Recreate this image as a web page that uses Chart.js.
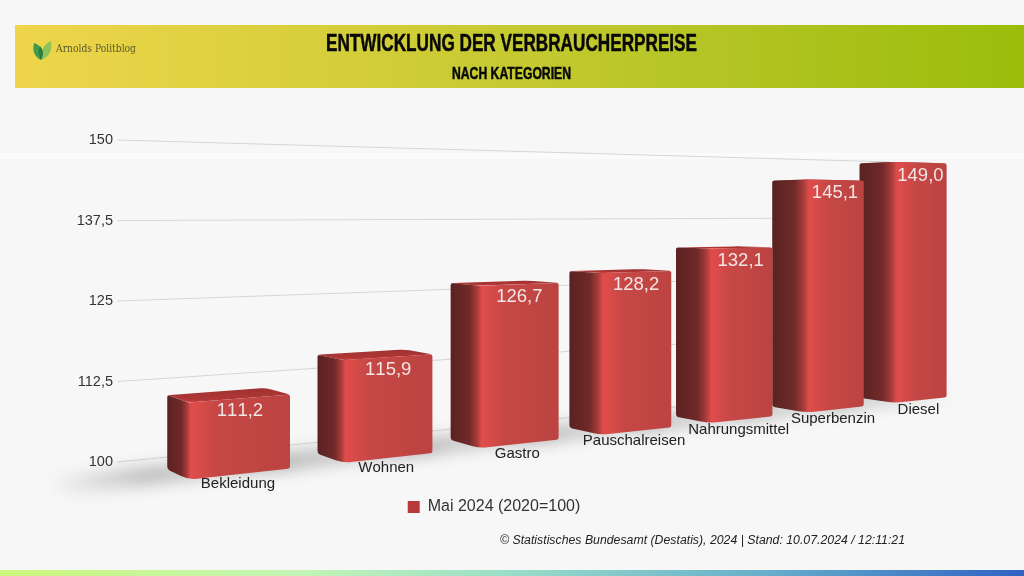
<!DOCTYPE html>
<html lang="de">
<head>
<meta charset="utf-8">
<title>Entwicklung der Verbraucherpreise</title>
<script src="https://cdn.jsdelivr.net/npm/chart.js@4/dist/chart.umd.min.js"></script>
<style>
    html, body { margin: 0; padding: 0; background: #f7f7f7; }
    canvas { display: block; }
</style>
</head>
<body>
<canvas id="chart" width="1024" height="576"></canvas>
<script>
const categories = ['Bekleidung', 'Wohnen', 'Gastro', 'Pauschalreisen', 'Nahrungsmittel', 'Superbenzin', 'Diesel'];
const values = [111.2, 115.9, 126.7, 128.2, 132.1, 145.1, 149.0];
const valueLabels = ['111,2', '115,9', '126,7', '128,2', '132,1', '145,1', '149,0'];
const yTickLabels = ['100', '112,5', '125', '137,5', '150'];
const seriesName = 'Mai 2024 (2020=100)';
const titleText = 'ENTWICKLUNG DER VERBRAUCHERPREISE';
const subtitleText = 'NACH KATEGORIEN';
const logoText = 'Arnolds Politblog';
const sourceText = '© Statistisches Bundesamt (Destatis), 2024 | Stand: 10.07.2024 / 12:11:21';

const HORIZON = 212;
const VP_RIGHT = 2650;
const VP_LEFT = -380;
const SPAN = 0.4375;
const DEPTH_FRONT = 0.077;
const DEPTH_BACK = 0.04;
const SHIFT_X = 2.5;

function project(chart, px, py, depth) {
    const area = chart.chartArea;
    const t = (px - area.left) / area.width * SPAN;
    const w = 1 + t - depth;
    return {
        x: SHIFT_X + area.left + ((VP_RIGHT - area.left) * t + (area.left - VP_LEFT) * depth) / w,
        y: HORIZON + (py - HORIZON) / w
    };
}

function roundedPoly(ctx, pts, radii) {
    const n = pts.length;
    ctx.beginPath();
    pts.forEach((p, i) => {
        const prev = pts[(i + n - 1) % n];
        const next = pts[(i + 1) % n];
        const lenA = Math.hypot(prev.x - p.x, prev.y - p.y) || 1;
        const lenB = Math.hypot(next.x - p.x, next.y - p.y) || 1;
        const cutA = Math.min(radii[i], lenA / 2) / lenA;
        const cutB = Math.min(radii[i], lenB / 2) / lenB;
        const x0 = p.x + (prev.x - p.x) * cutA;
        const y0 = p.y + (prev.y - p.y) * cutA;
        if (i === 0) {
            ctx.moveTo(x0, y0);
        } else {
            ctx.lineTo(x0, y0);
        }
        ctx.quadraticCurveTo(p.x, p.y, p.x + (next.x - p.x) * cutB, p.y + (next.y - p.y) * cutB);
    });
    ctx.closePath();
}

function fitText(ctx, text, cx, cy, font, width) {
    ctx.save();
    ctx.font = font;
    ctx.textAlign = 'center';
    ctx.textBaseline = 'middle';
    const k = width / ctx.measureText(text).width;
    ctx.translate(cx, cy);
    ctx.scale(k, 1);
    ctx.fillText(text, 0, 0);
    ctx.strokeStyle = ctx.fillStyle;
    ctx.lineWidth = 0.5;
    ctx.strokeText(text, 0, 0);
    ctx.restore();
}

function drawLogo(ctx) {
    ctx.save();
    ctx.fillStyle = '#8cc45c';
    ctx.beginPath();
    ctx.moveTo(41, 60);
    ctx.quadraticCurveTo(53, 56, 51, 41);
    ctx.quadraticCurveTo(40, 46, 41, 60);
    ctx.fill();
    ctx.fillStyle = '#3f9a4e';
    ctx.beginPath();
    ctx.moveTo(41, 60);
    ctx.quadraticCurveTo(31, 55, 34, 43);
    ctx.quadraticCurveTo(47, 48, 41, 60);
    ctx.fill();
    ctx.fillStyle = '#2a7a44';
    ctx.beginPath();
    ctx.moveTo(41, 60);
    ctx.quadraticCurveTo(37, 52, 40, 46);
    ctx.quadraticCurveTo(45, 52, 41, 60);
    ctx.fill();
    ctx.fillStyle = '#5c5a2c';
    ctx.font = '10.5px "DejaVu Serif", "Liberation Serif", serif';
    ctx.textAlign = 'left';
    ctx.textBaseline = 'middle';
    const k = 80 / ctx.measureText(logoText).width;
    ctx.translate(56, 49.5);
    ctx.scale(k, 1);
    ctx.fillText(logoText, 0, 0);
    ctx.restore();
}

function drawBar(chart, ctx, bar) {
    const left = bar.x - bar.width / 2;
    const right = bar.x + bar.width / 2;
    const base = chart.scales.y.getBasePixel();
    const top = bar.y;
    const a = project(chart, left, top, DEPTH_BACK);
    const b = project(chart, right, top, DEPTH_BACK);
    const c = project(chart, right, top, DEPTH_FRONT);
    const g = project(chart, left, top, DEPTH_FRONT);
    const d = project(chart, right, base, DEPTH_FRONT);
    const e = project(chart, left, base, DEPTH_FRONT);
    const f = project(chart, left, base, DEPTH_BACK);

    // top face
    const topFill = ctx.createLinearGradient(0, Math.min(a.y, b.y), 0, Math.max(g.y, c.y));
    topFill.addColorStop(0, '#9e3130');
    topFill.addColorStop(0.8, '#b03736');
    topFill.addColorStop(1, '#c94543');
    ctx.fillStyle = topFill;
    roundedPoly(ctx, [a, b, c, g], [3, 5, 2, 3]);
    ctx.fill();

    // side and front as one shaded surface, the edge between them is soft
    const span = c.x - a.x;
    const s = (g.x - a.x) / span;
    const body = ctx.createLinearGradient(a.x, 0, c.x, 0);
    body.addColorStop(0, '#5a2221');
    body.addColorStop(s * 0.65, '#702a29');
    body.addColorStop(s * 0.92, '#a83c3a');
    body.addColorStop(s * 1.08, '#e04d4b');
    body.addColorStop(Math.min(1, s * 1.08 + 0.04), '#dc4c4a');
    body.addColorStop(Math.min(1, s * 1.08 + 0.2), '#c64846');
    body.addColorStop(1, '#bb4341');
    ctx.fillStyle = body;
    roundedPoly(ctx, [a, g, c, d, e, f], [2, 0, 2, 2, 8, 3]);
    ctx.fill();
}

const perspectivePlugin = {
    id: 'perspective',
    beforeDraw(chart) {
        const ctx = chart.ctx;
        ctx.save();
        ctx.fillStyle = '#f7f7f7';
        ctx.fillRect(0, 0, chart.width, chart.height);
        ctx.fillStyle = '#fbfbfb';
        ctx.fillRect(0, 153, chart.width, 6);

        const head = ctx.createLinearGradient(15, 0, 1024, 0);
        head.addColorStop(0, '#efd54a');
        head.addColorStop(0.3, '#d7cf3c');
        head.addColorStop(0.7, '#b3c424');
        head.addColorStop(1, '#9bbd0a');
        ctx.fillStyle = head;
        ctx.fillRect(15, 25, 1009, 63);

        const foot = ctx.createLinearGradient(0, 0, 1024, 0);
        foot.addColorStop(0, '#cdf77c');
        foot.addColorStop(0.29, '#c4f5b5');
        foot.addColorStop(0.49, '#9bdfc8');
        foot.addColorStop(0.75, '#66aecb');
        foot.addColorStop(1, '#2f62c4');
        ctx.fillStyle = foot;
        ctx.fillRect(0, 570, chart.width, 6);

        ctx.fillStyle = '#080808';
        fitText(ctx, titleText, 511.5, 44, 'bold 24px "Liberation Sans Narrow", "Liberation Sans", sans-serif', 371);
        fitText(ctx, subtitleText, 511.5, 74.5, 'bold 16.5px "Liberation Sans Narrow", "Liberation Sans", sans-serif', 119);
        drawLogo(ctx);

        ctx.fillStyle = '#222222';
        ctx.font = 'italic 12.5px "Liberation Sans", sans-serif';
        ctx.textAlign = 'left';
        ctx.textBaseline = 'middle';
        const k = 405 / ctx.measureText(sourceText).width;
        ctx.translate(500, 541);
        ctx.scale(k, 1);
        ctx.fillText(sourceText, 0, 0);
        ctx.restore();
    },
    beforeDatasetsDraw(chart) {
        const ctx = chart.ctx;
        const area = chart.chartArea;
        const y = chart.scales.y;
        const base = y.getBasePixel();

        ctx.save();
        ctx.strokeStyle = '#d6d6d6';
        ctx.lineWidth = 1;
        y.ticks.forEach(tick => {
            const py = y.getPixelForValue(tick.value);
            const p0 = project(chart, area.left, py, 0);
            const p1 = project(chart, area.right, py, 0);
            ctx.beginPath();
            ctx.moveTo(p0.x, p0.y);
            ctx.lineTo(p1.x, p1.y);
            ctx.stroke();
        });

        // soft ground shadow, falling to the left of each bar
        ctx.filter = 'blur(8px)';
        chart.getDatasetMeta(0).data.forEach(bar => {
            const left = bar.x - bar.width / 2;
            const right = bar.x + bar.width / 2;
            const reach = left - bar.width * 1.1;
            const p0 = project(chart, reach, base, DEPTH_BACK - 0.012);
            const p1 = project(chart, right + 12, base, DEPTH_BACK - 0.012);
            const p2 = project(chart, right + 12, base, DEPTH_FRONT - 0.004);
            const p3 = project(chart, reach, base, DEPTH_FRONT);
            const shade = ctx.createLinearGradient(p0.x, 0, p1.x, 0);
            shade.addColorStop(0, 'rgba(130,130,130,0)');
            shade.addColorStop(0.45, 'rgba(115,115,115,0.5)');
            shade.addColorStop(1, 'rgba(115,115,115,0.3)');
            ctx.fillStyle = shade;
            ctx.beginPath();
            ctx.moveTo(p0.x, p0.y);
            ctx.lineTo(p1.x, p1.y);
            ctx.lineTo(p2.x, p2.y);
            ctx.lineTo(p3.x, p3.y);
            ctx.closePath();
            ctx.fill();
        });
        ctx.restore();
    },
    beforeDatasetDraw(chart, args) {
        // bars are far to near, right to left
        const bars = args.meta.data;
        const ctx = chart.ctx;
        ctx.save();
        for (let i = bars.length - 1; i >= 0; i--) {
            drawBar(chart, ctx, bars[i]);
        }
        ctx.restore();
        return false;
    },
    afterDatasetsDraw(chart) {
        const ctx = chart.ctx;
        const base = chart.scales.y.getBasePixel();
        ctx.save();
        ctx.textAlign = 'center';
        ctx.textBaseline = 'middle';
        ctx.fontKerning = 'none';
        chart.getDatasetMeta(0).data.forEach((bar, i) => {
            const top = project(chart, bar.x, bar.y, DEPTH_FRONT);
            const bottom = project(chart, bar.x, base, DEPTH_FRONT);
            ctx.font = '18.5px "Liberation Sans", sans-serif';
            ctx.fillStyle = '#f3e6e4';
            ctx.fillText(valueLabels[i], top.x - 0.5, top.y + 13);
            ctx.font = '15px "Liberation Sans", sans-serif';
            ctx.fillStyle = '#222222';
            ctx.fillText(categories[i], bottom.x - 2.5, bottom.y + 10);
        });
        ctx.restore();
    }
};

new Chart(document.getElementById('chart'), {
    type: 'bar',
    data: {
        labels: categories,
        datasets: [{
            label: seriesName,
            data: values,
            backgroundColor: '#b93a3a',
            borderWidth: 0,
            categoryPercentage: 1,
            barPercentage: 0.64
        }]
    },
    options: {
        responsive: false,
        animation: false,
        layout: {padding: {top: 140, right: 36, bottom: 51, left: 0}},
        plugins: {
            legend: {
                position: 'bottom',
                labels: {
                    boxWidth: 12,
                    boxHeight: 12,
                    padding: 37,
                    color: '#333333',
                    font: {family: '"Liberation Sans", sans-serif', size: 16}
                }
            },
            tooltip: {enabled: false}
        },
        scales: {
            x: {display: false},
            y: {
                min: 100,
                max: 150,
                afterFit(scale) {
                    scale.width = 115;
                },
                grid: {display: false, drawTicks: false},
                border: {display: false},
                ticks: {
                    stepSize: 12.5,
                    padding: 2,
                    color: '#333333',
                    font: {family: '"Liberation Sans", sans-serif', size: 14.5},
                    callback: (value, index) => yTickLabels[index]
                }
            }
        }
    },
    plugins: [perspectivePlugin]
});
</script>
</body>
</html>
